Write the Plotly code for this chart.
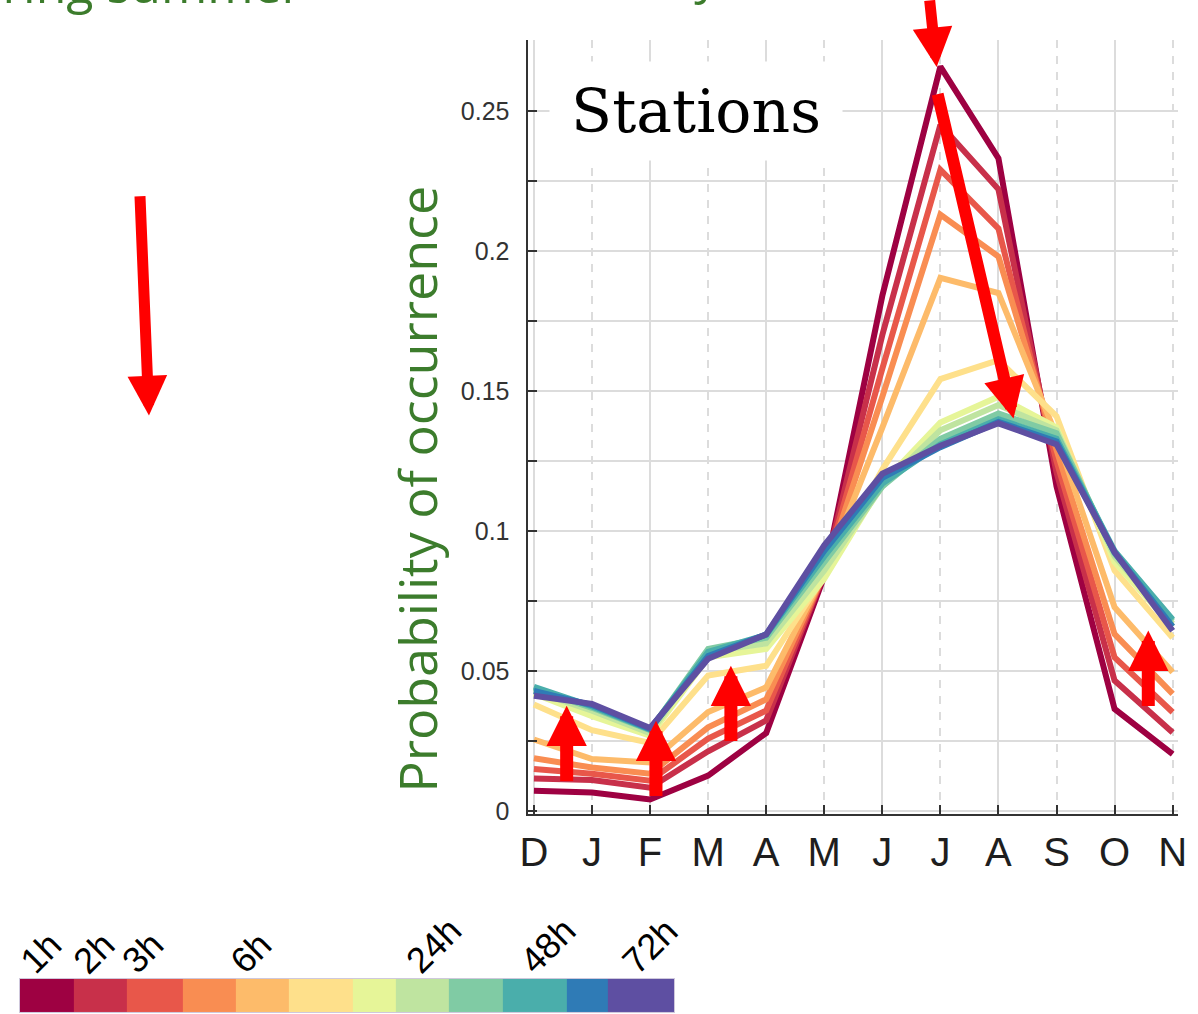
import plotly.graph_objects as go

# ---------------- data ----------------
months = ["D", "J", "F", "M", "A", "M", "J", "J", "A", "S", "O", "N"]

s01 = [0.0074, 0.0068, 0.0043, 0.0128, 0.0280, 0.0840, 0.1840, 0.2658, 0.2330, 0.1160, 0.0366, 0.0205]
s02 = [0.0118, 0.0112, 0.0085, 0.0215, 0.0325, 0.0850, 0.1700, 0.2450, 0.2220, 0.1210, 0.0467, 0.0282]
s03 = [0.0152, 0.0135, 0.0110, 0.0260, 0.0360, 0.0850, 0.1580, 0.2290, 0.2080, 0.1250, 0.0550, 0.0354]
s04 = [0.0190, 0.0157, 0.0135, 0.0300, 0.0400, 0.0850, 0.1480, 0.2130, 0.1980, 0.1290, 0.0633, 0.0420]
s05 = [0.0257, 0.0187, 0.0175, 0.0355, 0.0443, 0.0850, 0.1370, 0.1904, 0.1850, 0.1340, 0.0729, 0.0497]
s06 = [0.0382, 0.0290, 0.0245, 0.0485, 0.0520, 0.0840, 0.1220, 0.1543, 0.1610, 0.1410, 0.0860, 0.0620]
s07 = [0.0420, 0.0340, 0.0270, 0.0550, 0.0580, 0.0830, 0.1170, 0.1388, 0.1480, 0.1370, 0.0890, 0.0660]
s08 = [0.0430, 0.0360, 0.0280, 0.0570, 0.0600, 0.0860, 0.1160, 0.1360, 0.1450, 0.1360, 0.0910, 0.0670]
s09 = [0.0440, 0.0370, 0.0290, 0.0580, 0.0620, 0.0890, 0.1160, 0.1330, 0.1420, 0.1350, 0.0920, 0.0680]
s10 = [0.0445, 0.0375, 0.0292, 0.0570, 0.0630, 0.0910, 0.1170, 0.1310, 0.1400, 0.1330, 0.0930, 0.0685]
s11 = [0.0430, 0.0380, 0.0295, 0.0555, 0.0632, 0.0930, 0.1190, 0.1300, 0.1390, 0.1320, 0.0925, 0.0660]
s12 = [0.0413, 0.0384, 0.0298, 0.0545, 0.0632, 0.0950, 0.1205, 0.1305, 0.1385, 0.1310, 0.0925, 0.0645]
series = [s01, s02, s03, s04, s05, s06, s07, s08, s09, s10, s11, s12]

duration_labels = ["1h", "2h", "3h", "", "6h", "", "", "24h", "", "48h", "", "72h"]

# ---------------- styles / layout constants ----------------
colors = ["#9e0142", "#c8304a", "#e8574a", "#f98d52", "#fdbb6a", "#fee08b",
          "#e6f598", "#bfe4a0", "#80cba4", "#4aaeab", "#2f7bb6", "#5e4fa2"]
cbar_edges = [12, 66.6, 120.3, 177.1, 230.8, 284.5, 349.3, 393.2, 446.9, 501.5, 566.8, 608.8, 676]
cbar_label_left = [3, 57, 106, None, 216, None, None, 394, None, 510, None, 614]

W, H0 = 1198, 1014          # target picture size
K = 1.0118                  # vertical compensation
H = round(H0 * K)           # figure height
GREEN = "#3c7c2c"
GRID = "#dcdcdc"
AXC = "#333333"


def px_x(p):
    return p / W


def px_y(p):
    return 1 - p / H0


fig = go.Figure()

xs = list(range(len(months)))
for k, s in enumerate(series):
    fig.add_trace(go.Scatter(x=xs, y=s, mode="lines", name=f"series {k + 1}",
                             line=dict(color=colors[k], width=6),
                             showlegend=False, hoverinfo="skip"))

# invisible trace carrying the overlay grid axis
fig.add_trace(go.Scatter(x=[0], y=[0], xaxis="x2", yaxis="y", mode="markers",
                         marker=dict(opacity=0), showlegend=False, hoverinfo="skip"))

# discrete colour bar
n = len(colors)
cscale = []
for k, c in enumerate(colors):
    cscale.append([k / n, c])
    cscale.append([(k + 1) / n, c])
fig.add_trace(go.Heatmap(x=cbar_edges, y=[0], z=[list(range(n))], zmin=-0.5, zmax=n - 0.5,
                         colorscale=cscale, showscale=False, xaxis="x3", yaxis="y3",
                         hoverinfo="skip"))

xr = [-0.1104, 11.095]
yr = [-0.00082, 0.27525]
xdom = [527 / W, 1187 / W]
ydom = [px_y(813), px_y(40)]

fig.update_layout(
    width=W, height=H,
    margin=dict(l=0, r=0, t=0, b=0),
    paper_bgcolor="white", plot_bgcolor="white",
    xaxis=dict(domain=xdom, range=xr, tickvals=xs, ticktext=months,
               showgrid=False, zeroline=False, showline=True, linecolor=AXC, linewidth=2,
               ticks="inside", ticklen=9, tickwidth=2, tickcolor=AXC,
               tickfont=dict(family="Liberation Sans", size=40, color="#1e1e1e"),
               ticklabelstandoff=2, anchor="y"),
    xaxis2=dict(domain=xdom, range=xr, overlaying="x", anchor="y",
                tickvals=[0, 2, 4, 6, 8, 10], showticklabels=False, ticks="",
                showgrid=True, gridcolor=GRID, gridwidth=1.5, zeroline=False, showline=False,
                minor=dict(tickvals=[1, 3, 5, 7, 9, 11], showgrid=True, gridcolor=GRID,
                           gridwidth=1.5, griddash="8px,8px", ticks="")),
    yaxis=dict(domain=ydom, range=yr, tick0=0, dtick=0.05,
               showgrid=True, gridcolor=GRID, gridwidth=1.5, zeroline=False,
               showline=True, linecolor=AXC, linewidth=2,
               ticks="inside", ticklen=9, tickwidth=2, tickcolor=AXC,
               tickfont=dict(family="Liberation Sans", size=25, color="#333333"),
               ticklabelstandoff=11,
               minor=dict(tick0=0, dtick=0.025, showgrid=True, gridcolor=GRID, gridwidth=1.5,
                          ticks="inside", ticklen=9, tickwidth=2, tickcolor=AXC)),
    xaxis3=dict(domain=[cbar_edges[0] / W, cbar_edges[-1] / W], range=[cbar_edges[0], cbar_edges[-1]],
                anchor="y3", showticklabels=False, ticks="", showgrid=False, zeroline=False,
                showline=True, linecolor="#cfc8dc", linewidth=1, mirror=True),
    yaxis3=dict(domain=[px_y(1011), px_y(978)], range=[-0.5, 0.5], anchor="x3",
                showticklabels=False, ticks="", showgrid=False, zeroline=False,
                showline=True, linecolor="#cfc8dc", linewidth=1, mirror=True),
)

annotations = []
# y-axis title
annotations.append(dict(xref="paper", yref="paper", x=px_x(414), y=px_y(489), text="Probability of occurrence",
                        textangle=-90, showarrow=False, xanchor="center", yanchor="middle",
                        font=dict(family="Open Sans", size=52, color=GREEN)))
# panel label
annotations.append(dict(xref="x", yref="y", x=2.79, y=0.25, text="Stations", showarrow=False,
                        xanchor="center", yanchor="middle", width=290, height=round(95 * K), bgcolor="white",
                        font=dict(family="DejaVu Serif", size=60, color="black")))
# cut-off header texts at the top edge
annotations.append(dict(xref="paper", yref="paper", x=px_x(300), y=px_y(20), text="Peak intensity during summer",
                        showarrow=False, xanchor="right", yanchor="bottom",
                        font=dict(family="Open Sans", size=50, color=GREEN)))
annotations.append(dict(xref="paper", yref="paper", x=px_x(466), y=px_y(10),
                        text="Probability<span style='color:#c8c8c8'> of occurrence</span>",
                        showarrow=False, xanchor="left", yanchor="bottom",
                        font=dict(family="Open Sans", size=50, color=GREEN)))

# colour-bar labels
for i, t in enumerate(duration_labels):
    if t:
        annotations.append(dict(xref="paper", yref="paper", x=px_x(cbar_label_left[i]), y=px_y(982),
                                text=t, textangle=-45, showarrow=False, xanchor="left", yanchor="bottom",
                                borderpad=0, font=dict(family="Liberation Sans", size=36, color="black")))

# red arrows: (tail, tip) in target pixels, shaft width, head size
arrow_specs = [
    ((134, 198), (143, 415), 11, 0.72),
    ((935, -20), (942, 67), 11, 0.72),
    ((944, 97), (1020, 418), 12, 0.68),
    ((566.7, 780), (566.7, 705), 13, 0.62),
    ((657.3, 795), (657.3, 720), 13, 0.62),
    ((733.3, 740), (733.3, 665), 13, 0.62),
    ((1156.7, 705), (1156.7, 630), 13, 0.62),
]
for tail, tip, wdt, sz in arrow_specs:
    annotations.append(dict(xref="paper", yref="paper", x=px_x(tip[0]), y=px_y(tip[1]),
                            ax=tail[0] - tip[0], ay=(tail[1] - tip[1]) * K, axref="pixel", ayref="pixel",
                            text="", font=dict(size=1), borderpad=0,
                            showarrow=True, arrowhead=2, arrowsize=sz, arrowwidth=wdt,
                            arrowcolor="#ff0000", standoff=0))

fig.update_layout(annotations=annotations)

page_css = ("var h=document.documentElement,b=document.body;"
            "[h,b].forEach(function(e){e.style.margin='0';e.style.padding='0';"
            "e.style.overflow='hidden';e.style.height='%dpx';});" % H)
fig.write_html("out.html", config={"displayModeBar": False}, post_script=page_css)
